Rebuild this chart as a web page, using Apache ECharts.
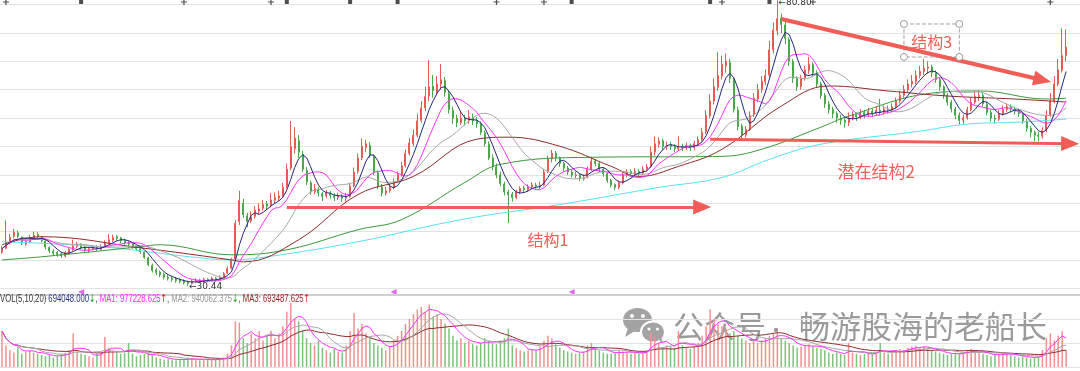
<!DOCTYPE html>
<html>
<head>
<meta charset="utf-8">
<script src="https://cdn.jsdelivr.net/npm/echarts@6/dist/echarts.min.js"></script>
<style>html,body{margin:0;padding:0;background:#fff}#c{width:1080px;height:371px}</style>
</head>
<body>
<div id="c"></div>
<script>
// ---- price data ----
const opens = [
36.4,37.1,38.0,39.2,39.8,39.0,37.8,38.2,38.8,39.5,
39.0,38.3,37.2,36.5,36.3,36.1,35.7,36.2,36.8,37.4,
37.8,37.3,36.7,36.9,37.4,36.9,37.3,38.0,38.5,39.1,
38.9,38.5,38.0,37.9,37.4,37.0,36.4,35.4,34.1,33.3,
32.9,32.5,32.0,31.8,31.7,31.5,31.3,31.1,30.9,31.2,
31.5,31.2,31.6,31.4,31.8,31.5,32.0,32.7,33.6,35.2,
41.8,45.0,42.8,41.9,42.7,43.6,44.1,44.9,44.6,45.5,
45.9,46.4,48.0,51.2,54.6,56.0,53.6,50.8,48.6,47.0,
47.5,46.7,46.3,46.8,46.3,46.0,46.2,45.9,46.2,48.1,
50.6,53.0,54.8,55.2,53.2,50.4,47.9,46.8,47.2,47.8,
48.9,50.0,51.6,53.8,55.5,57.0,59.6,61.8,63.9,65.6,
64.6,66.0,66.6,64.3,61.4,60.0,59.2,60.0,59.5,60.2,
59.6,59.0,57.4,55.4,53.0,51.4,50.0,48.4,47.0,46.6,
46.0,47.0,47.7,47.4,47.9,48.2,47.9,48.2,50.6,52.8,
53.8,53.0,52.0,51.2,50.5,49.9,50.0,49.3,49.6,51.0,
52.4,52.0,51.0,50.2,49.0,48.3,47.8,48.6,50.0,50.6,
50.1,50.6,50.3,51.0,51.5,54.0,55.4,56.0,55.0,55.3,
55.0,54.6,55.0,54.8,55.2,54.8,55.5,56.2,57.6,60.4,
63.0,65.4,67.4,69.2,69.8,66.8,61.4,58.6,57.0,58.0,
60.6,63.4,65.0,66.4,67.6,72.0,75.4,77.6,76.4,73.8,
70.0,67.0,65.6,67.0,68.4,69.4,68.0,66.0,64.0,62.5,
61.5,60.8,60.0,59.6,59.2,60.0,60.6,60.2,61.0,60.6,
61.2,60.8,61.4,61.0,61.6,61.4,62.0,63.0,64.0,65.0,
66.0,66.4,67.5,68.2,68.8,69.0,68.0,66.8,65.5,64.0,
62.8,61.6,60.5,59.6,60.0,61.5,62.8,63.8,64.0,62.5,
61.0,60.0,59.8,60.8,61.5,62.0,61.6,61.2,60.8,59.5,
58.2,57.5,57.0,56.8,57.8,60.5,63.0,66.0,68.4,71.0
];
const closes = [
37.0,38.2,39.0,39.9,39.2,38.0,38.3,38.9,39.4,39.1,
38.4,37.3,36.6,36.2,36.0,35.8,36.3,36.9,37.5,37.8,
37.2,36.8,37.0,37.3,37.0,37.4,38.1,38.6,39.0,38.8,
38.4,38.1,37.8,37.4,37.0,36.5,35.5,34.2,33.2,32.8,
32.4,32.0,31.8,31.6,31.4,31.2,31.0,30.9,31.3,31.5,
31.2,31.6,31.4,31.8,31.5,32.0,32.6,33.5,35.0,41.5,
45.5,43.0,41.8,42.6,43.8,44.0,44.8,44.5,45.6,46.0,
46.3,47.8,51.0,55.0,56.5,54.0,51.0,48.8,47.0,47.6,
46.8,46.2,46.8,46.4,46.0,46.3,45.9,46.2,48.0,50.5,
53.0,55.0,55.5,53.5,50.5,48.0,46.8,47.2,47.8,48.8,
50.0,51.6,53.8,55.6,57.0,59.5,61.8,63.8,65.5,64.8,
66.0,66.8,64.5,61.5,60.0,59.2,60.0,59.5,60.2,59.6,
59.0,57.5,55.5,53.0,51.5,50.0,48.5,47.0,46.5,46.0,
47.0,47.6,47.4,47.9,48.2,48.0,48.2,50.5,52.8,53.8,
53.0,52.0,51.2,50.5,50.0,50.0,49.4,49.6,51.0,52.4,
52.0,51.0,50.2,49.0,48.2,47.8,48.6,50.0,50.5,50.2,
50.6,50.3,51.0,51.4,54.0,55.5,56.0,55.0,55.2,55.0,
54.6,55.0,54.8,55.2,54.8,55.5,56.2,57.5,60.5,63.0,
65.5,67.5,69.5,70.0,67.0,61.5,58.5,57.0,58.0,60.5,
63.5,65.0,66.5,67.5,72.0,75.5,77.5,76.5,74.0,70.0,
67.0,65.5,67.0,68.5,69.5,68.0,66.0,64.0,62.5,61.5,
60.8,60.0,59.6,59.2,60.0,60.6,60.2,61.0,60.6,61.2,
60.8,61.4,61.0,61.6,61.4,62.0,63.0,64.0,65.0,66.0,
66.5,67.5,68.2,68.8,69.0,68.0,66.8,65.5,64.0,62.8,
61.6,60.5,59.6,60.0,61.5,62.8,63.8,64.0,62.5,61.0,
60.0,59.8,60.8,61.5,62.0,61.6,61.2,60.8,59.5,58.2,
57.5,57.0,56.8,57.8,60.5,63.0,66.0,68.5,71.0,72.5
];
const lows = [
36.1,36.9,37.8,38.8,38.9,37.6,37.5,38.0,38.5,38.8,
38.1,36.9,36.2,35.8,35.6,35.4,35.5,36.0,36.6,37.1,
36.9,36.4,36.3,36.7,36.6,36.7,37.1,37.8,38.2,38.4,
38.0,37.7,37.2,37.0,36.6,36.1,35.2,33.9,32.8,32.4,
32.0,31.6,31.4,31.2,31.0,30.9,30.7,30.44,30.7,31.0,
30.9,31.0,31.1,31.2,31.2,31.3,31.8,32.5,33.4,35.0,
41.2,42.4,40.8,41.5,42.3,43.0,43.7,43.9,44.3,45.0,
45.4,46.1,47.6,50.8,53.8,53.0,50.5,48.2,46.5,46.6,
46.2,45.4,45.9,45.8,45.4,45.6,45.2,45.3,46.0,47.8,
50.2,52.6,54.0,53.0,50.0,47.5,46.2,46.4,46.9,47.5,
48.6,49.7,51.3,53.4,55.0,56.6,59.2,61.2,63.0,63.6,
64.2,65.0,63.8,60.8,59.0,58.4,58.8,58.7,59.0,58.8,
58.3,57.0,55.0,52.6,50.8,49.4,48.0,46.4,41.5,45.3,
45.7,46.6,46.9,47.0,47.5,47.6,47.5,48.0,50.3,52.2,
52.4,51.4,50.6,50.0,49.5,49.4,48.9,49.0,49.4,50.7,
51.5,50.5,49.7,48.6,47.8,47.3,47.5,48.3,49.6,49.7,
49.8,49.8,50.0,50.6,51.2,53.4,54.8,54.4,54.4,54.4,
54.0,54.2,54.2,54.4,54.2,54.4,55.1,55.9,57.2,60.0,
62.4,64.8,66.8,68.0,66.2,61.0,57.8,56.4,56.6,57.7,
60.2,62.8,64.4,65.8,67.2,71.4,74.6,75.0,73.0,69.2,
66.2,64.8,65.0,66.6,67.8,67.2,65.4,63.4,61.8,60.8,
60.0,59.2,58.8,58.3,58.6,59.6,59.5,59.8,60.0,60.2,
60.2,60.4,60.4,60.6,60.8,61.0,61.7,62.6,63.6,64.6,
65.4,66.0,67.0,67.6,67.8,67.2,66.2,64.8,63.4,62.2,
61.0,59.8,58.9,59.0,59.7,61.2,62.4,63.0,62.0,60.5,
59.4,59.0,59.5,60.4,61.0,61.0,60.6,60.2,59.0,57.6,
56.6,55.9,55.9,56.4,57.5,60.2,62.6,65.6,68.0,70.0
];
const highs = [
37.5,42.0,39.6,40.5,40.2,39.2,38.8,39.5,40.0,39.9,
39.2,38.5,37.4,36.9,36.6,36.4,36.6,37.2,38.6,38.2,
38.0,37.5,37.3,37.7,37.6,37.8,38.5,39.6,39.5,39.4,
39.1,38.8,38.4,38.1,37.6,37.2,36.6,35.6,34.4,33.6,
33.1,32.8,32.4,32.2,32.0,31.8,31.6,31.4,31.6,31.8,
31.7,31.9,31.8,32.1,32.0,32.3,32.9,33.9,35.4,42.0,
47.2,45.8,43.3,43.6,44.5,45.0,45.6,45.4,46.8,46.9,
47.2,48.6,52.0,59.5,58.4,57.0,54.2,51.4,49.0,48.4,
47.9,47.0,47.4,47.2,46.8,46.9,46.6,46.8,48.6,51.3,
53.8,56.4,56.2,55.8,53.6,50.8,48.4,47.9,48.4,49.4,
50.6,52.3,54.5,56.5,58.0,60.8,63.0,65.5,70.2,67.6,
67.4,69.5,67.2,64.8,62.0,60.6,61.2,60.6,61.4,60.8,
60.2,59.4,57.8,55.9,53.6,52.0,50.6,48.8,47.4,47.0,
47.4,48.0,48.1,48.3,48.7,48.6,48.8,51.0,53.4,54.4,
54.2,53.2,52.3,51.6,51.0,50.6,50.3,50.1,51.5,53.2,
52.8,52.3,51.3,50.4,49.3,48.5,49.0,50.6,51.0,51.0,
51.2,51.0,51.5,51.9,55.0,56.8,56.6,56.4,55.9,55.8,
55.4,56.8,55.5,55.7,55.5,56.0,56.8,58.3,61.4,64.2,
67.0,71.6,71.0,71.4,70.4,67.2,62.0,59.0,58.6,61.2,
64.4,66.0,67.4,68.6,73.6,76.8,80.8,78.4,77.0,74.2,
70.4,67.4,67.6,69.2,70.8,69.8,68.4,66.4,64.4,63.0,
62.0,61.2,60.6,60.2,61.0,61.2,61.0,61.6,61.4,61.8,
61.6,62.0,63.4,62.2,62.2,62.6,63.6,64.8,65.8,66.8,
67.6,68.4,69.2,70.4,70.0,69.4,68.4,67.2,65.8,64.4,
63.2,62.0,61.0,60.6,62.0,63.6,64.8,64.8,64.4,62.8,
61.4,60.6,61.4,62.2,62.6,62.4,62.0,61.6,61.0,59.8,
58.6,57.8,57.6,58.4,61.4,64.4,67.4,70.4,75.8,75.6
];
// volume, in units of 10,000 shares
const volumes = [
150,90,70,60,85,55,65,70,60,55,
50,45,50,40,45,55,60,70,140,65,
55,50,45,40,55,60,125,80,70,60,
55,60,100,55,45,50,55,60,50,40,
35,30,35,30,28,32,30,40,35,30,
28,30,35,28,32,35,40,55,90,190,
185,120,100,140,120,150,110,130,150,120,
140,170,230,267,200,190,150,120,100,90,
110,80,70,60,75,65,60,90,150,225,
160,180,140,120,100,90,80,70,85,110,
130,150,180,200,220,240,250,230,260,210,
220,200,180,160,130,110,120,100,110,95,
90,100,120,110,100,95,110,120,160,90,
80,70,65,70,75,70,85,110,130,120,
95,80,70,65,60,55,60,65,90,100,
80,70,60,55,55,60,70,65,60,55,
60,55,65,70,145,120,100,80,90,85,
80,150,90,80,75,85,100,130,170,240,
200,180,170,160,140,150,130,120,110,100,
110,100,110,120,130,140,145,120,110,100,
90,80,85,90,95,85,80,75,70,60,
55,60,55,50,100,60,55,50,55,60,
55,60,100,60,55,60,70,75,70,80,
85,90,80,85,75,70,65,60,55,50,
55,60,55,60,70,75,65,60,55,50,
45,50,55,60,55,50,45,40,45,40,
35,40,45,70,120,140,110,130,150,70
];
// long moving averages: [day index, price]
const ma60Pts = [[0,37.70],[10,39.12],[35,37.17],[58,35.04],[61,34.69],[75,38.58],[90,46.55],[104,49.73],[120,56.28],[128,56.64],[141,55.04],[154,51.50],[161,49.73],[171,51.50],[182,54.51],[197,62.12],[209,65.66],[224,64.78],[239,63.89],[256,63.36],[269,62.83]];
const ma120Pts = [[0,35.04],[10,35.58],[35,37.35],[40,37.70],[58,35.93],[72,36.81],[90,40.35],[101,42.12],[117,48.67],[126,51.86],[149,53.10],[182,53.27],[192,54.51],[207,58.40],[214,60.35],[235,64.40],[247,64.78],[264,63.36],[269,63.50]];
const ma250Pts = [[0,38.23],[25,37.35],[50,35.40],[58,35.04],[67,35.58],[90,38.23],[116,42.12],[141,44.78],[166,47.79],[182,49.56],[194,52.74],[207,55.40],[232,57.70],[244,58.94],[257,59.29],[269,59.82]];
// markers
const infoSquares = [20,72,88,100,144,179,194];
const infoPluses = [1,46,68,125,137,182,205,265];
const flagTriangles = [20,99,144];
const legendVol = {vol:'694048.000', ma1:'977228.625', ma2:'940062.375', ma3:'693487.625'};
const highIdx = 196, lowIdx = 47;

const N = closes.length;
const days = Array.from({length: N + 3}, (_, i) => 'D' + (i + 1));
function ma(arr, n) {
  return arr.map((_, i) => {
    const s = Math.max(0, i - n + 1);
    let sum = 0;
    for (let k = s; k <= i; k++) sum += arr[k];
    return +(sum / (i - s + 1)).toFixed(3);
  });
}
const kData = closes.map((c, i) => [opens[i], c, lows[i], highs[i]]);
const volData = volumes.map((v, i) => ({value: v, itemStyle: {color: closes[i] >= opens[i] ? '#f29090' : '#7cc47c'}}));

const RED = '#f05c56';
const txt = (coord, text, size) => ({coord, value: 0, symbol: 'circle', symbolSize: 0,
  label: {show: true, position: 'inside', formatter: text, color: '#ee5f58', fontSize: size, fontFamily: 'Noto Sans CJK SC'}});
const handle = (coord) => ({coord, value: 0, symbol: 'circle', symbolSize: 7,
  itemStyle: {color: '#fff', borderColor: '#9c9c9c', borderWidth: 1}, label: {show: false}});
const tip = (coord) => ({coord, symbol: 'triangle', symbolSize: [15, 18]});

const lineS = (name, data, color, xi, yi, z, smooth) => ({
  name, type: 'line', data, xAxisIndex: xi, yAxisIndex: yi, showSymbol: false, symbol: 'none',
  smooth: smooth || false, lineStyle: {color, width: 1}, z: z || 3, silent: true, clip: false
});

const chart = echarts.init(document.getElementById('c'), null, {renderer: 'canvas'});
chart.setOption({
  animation: false,
  backgroundColor: '#ffffff',
  grid: [
    {left: 0, right: 0, top: 4.5, height: 284},
    {left: 0, right: 0, top: 295, height: 72}
  ],
  xAxis: [
    {type: 'category', gridIndex: 0, data: days, boundaryGap: true, axisLine: {show: false}, axisTick: {show: false}, axisLabel: {show: false}, splitLine: {show: false}},
    {type: 'category', gridIndex: 1, data: days, boundaryGap: true, axisLine: {show: false}, axisTick: {show: false}, axisLabel: {show: false}, splitLine: {show: false}}
  ],
  yAxis: [
    {type: 'value', gridIndex: 0, min: 30, max: 80, interval: 5, axisLine: {show: false}, axisTick: {show: false}, axisLabel: {show: false}, splitLine: {show: true, lineStyle: {color: '#e2e2e2', width: 1}}},
    {type: 'value', gridIndex: 1, min: 0, max: 300, interval: 100, axisLine: {show: false}, axisTick: {show: false}, axisLabel: {show: false}, splitLine: {show: true, lineStyle: {color: '#e2e2e2', width: 1}}}
  ],
  series: [
    {type: 'candlestick', data: kData, xAxisIndex: 0, yAxisIndex: 0, barWidth: 1.5, clip: false, z: 2, silent: true,
     itemStyle: {color: '#f7b8b8', color0: '#4aa84a', borderColor: '#ea5a54', borderColor0: '#4aa84a', borderWidth: 1}},
    lineS('MA250', ma250Pts, '#55e3f2', 0, 0, 3, 0.4),
    lineS('MA120', ma120Pts, '#3a9a3a', 0, 0, 3, 0.4),
    lineS('MA60', ma60Pts, '#8e2c2c', 0, 0, 3, 0.4),
    lineS('MA20', ma(closes, 20), '#a8a8a8', 0, 0, 4),
    lineS('MA10', ma(closes, 10), '#ff33ff', 0, 0, 4),
    lineS('MA5', ma(closes, 5), '#25257f', 0, 0, 4),
    {type: 'bar', data: volData, xAxisIndex: 1, yAxisIndex: 1, barWidth: 1.5, z: 2, silent: true},
    lineS('VMA20', ma(volumes, 20), '#8e2c2c', 1, 1, 4),
    lineS('VMA10', ma(volumes, 10), '#a8a8a8', 1, 1, 4),
    lineS('VMA5', ma(volumes, 5), '#ff33ff', 1, 1, 4),
    {type: 'scatter', xAxisIndex: 0, yAxisIndex: 0, clip: false, silent: true, z: 6,
     data: infoSquares.map(i => [i, 80.44]), symbol: 'rect', symbolSize: 4, itemStyle: {color: '#222'}},
    {type: 'scatter', xAxisIndex: 0, yAxisIndex: 0, clip: false, silent: true, z: 6,
     data: infoPluses.map(i => [i, 80.44]), symbol: 'path://M4,0H6V4H10V6H6V10H4V6H0V4H4Z', symbolSize: 6, itemStyle: {color: '#222'}},
    {type: 'scatter', xAxisIndex: 0, yAxisIndex: 0, clip: false, silent: true, z: 6,
     data: flagTriangles.map(i => [i, 29.38]), symbol: 'triangle', symbolRotate: 90, symbolSize: 6, itemStyle: {color: '#e040f0'}},
    {type: 'line', data: [], xAxisIndex: 0, yAxisIndex: 0, clip: false, z: 10, silent: true,
     markLine: {silent: true, animation: false, symbol: ['none', 'triangle'], symbolSize: 16,
       label: {show: false}, lineStyle: {color: RED, width: 3, type: 'solid', opacity: 1},
       data: [
         [{coord: [72, 44.35], symbol: 'none'}, tip([177, 44.35])],
         [{coord: [179, 56.27], symbol: 'none'}, tip([270, 55.50])],
         [{coord: [197, 77.45], symbol: 'none', lineStyle: {width: 4}}, tip([263, 66.71])]
       ]},
     markArea: {silent: true, animation: false, label: {show: false},
       itemStyle: {color: 'rgba(0,0,0,0)', borderColor: '#a4a4a4', borderWidth: 1, borderType: 'dashed'},
       data: [[{coord: [228, 76.57]}, {coord: [242, 70.76]}]]},
     markPoint: {silent: true, animation: false,
       data: [
         txt([138, 38.54], '结构1', 16),
         txt([221, 50.51], '潜在结构2', 17),
         txt([235, 73.40], '结构3', 16),
         handle([228, 76.57]), handle([242, 76.57]), handle([228, 70.76]), handle([242, 70.76]),
         {coord: [highIdx, 79.9], value: 0, symbol: 'circle', symbolSize: 0,
          label: {show: true, position: 'right', distance: 1, offset: [0, -2], formatter: '←80.80', color: '#333', fontSize: 9, fontFamily: 'DejaVu Sans'}},
         {coord: [lowIdx, 30.44], value: 0, symbol: 'circle', symbolSize: 0,
          label: {show: true, position: 'right', distance: 1, offset: [0, 1], formatter: '←30.44', color: '#333', fontSize: 9, fontFamily: 'DejaVu Sans'}}
       ]}
    }
  ],
  graphic: [
    {type: 'line', z: 50, silent: true, shape: {x1: 0, y1: 295, x2: 1080, y2: 295}, style: {stroke: '#cfcfcf', lineWidth: 2}},
    {type: 'text', z: 60, silent: true, x: 0, y: 299, scaleX: 0.7,
     style: {
       text: '{k|VOL(5,10,20)} {b|' + legendVol.vol + '}{g|↓}{k|,} {m|MA1: ' + legendVol.ma1 + '}{r|↑}{k|,} {s|MA2: ' + legendVol.ma2 + '}{g|↓}{k|,} {d|MA3: ' + legendVol.ma3 + '}{r|↑}',
       font: '11px "Liberation Sans"', verticalAlign: 'middle', textAlign: 'left',
       rich: {
         k: {fill: '#333', color: '#333', fontSize: 11, fontFamily: 'Liberation Sans'},
         b: {fill: '#26308f', color: '#26308f', fontSize: 11, fontFamily: 'Liberation Sans'},
         g: {fill: '#17a017', color: '#17a017', fontSize: 11, fontFamily: 'DejaVu Sans'},
         r: {fill: '#e01010', color: '#e01010', fontSize: 11, fontFamily: 'DejaVu Sans'},
         m: {fill: '#ff2bff', color: '#ff2bff', fontSize: 11, fontFamily: 'Liberation Sans'},
         s: {fill: '#9a9a9a', color: '#9a9a9a', fontSize: 11, fontFamily: 'Liberation Sans'},
         d: {fill: '#9c2222', color: '#9c2222', fontSize: 11, fontFamily: 'Liberation Sans'}
       }
     }},
    {type: 'group', z: 80, silent: true, children: [
      {type: 'ellipse', shape: {cx: 637.5, cy: 320, rx: 14.5, ry: 12}, style: {fill: '#a3a3a3'}},
      {type: 'polygon', shape: {points: [[628, 328], [625, 337], [635, 331]]}, style: {fill: '#a3a3a3'}},
      {type: 'circle', shape: {cx: 632, cy: 316, r: 2}, style: {fill: '#fff'}},
      {type: 'circle', shape: {cx: 643, cy: 316, r: 2}, style: {fill: '#fff'}},
      {type: 'ellipse', shape: {cx: 653, cy: 332, rx: 12, ry: 10.5}, style: {fill: '#a3a3a3', stroke: '#fff', lineWidth: 2}},
      {type: 'polygon', shape: {points: [[659, 340], [664, 345], [661, 337]]}, style: {fill: '#a3a3a3'}},
      {type: 'circle', shape: {cx: 649, cy: 329, r: 1.6}, style: {fill: '#fff'}},
      {type: 'circle', shape: {cx: 657.5, cy: 329, r: 1.6}, style: {fill: '#fff'}},
      {type: 'text', x: 673, y: 326, style: {text: '公众号', fill: 'rgba(140,140,140,0.88)', font: '31px "Noto Sans CJK SC"', verticalAlign: 'middle', textAlign: 'left'}},
      {type: 'circle', shape: {cx: 776, cy: 330, r: 2.2}, style: {fill: 'rgba(140,140,140,0.88)'}},
      {type: 'text', x: 799, y: 326, style: {text: '畅游股海的老船长', fill: 'rgba(140,140,140,0.88)', font: '31px "Noto Sans CJK SC"', verticalAlign: 'middle', textAlign: 'left'}}
    ]}
  ]
});
</script>
</body>
</html>
